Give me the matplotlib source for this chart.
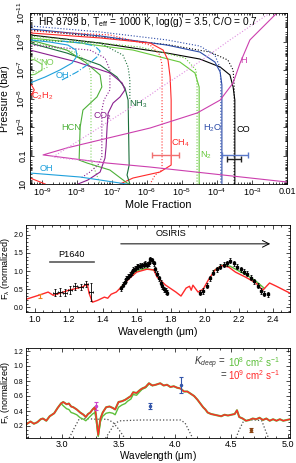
import numpy as np
import matplotlib
matplotlib.use('Agg')
import matplotlib.pyplot as plt
from matplotlib.ticker import LogLocator, MultipleLocator, NullFormatter, FormatStrFormatter

plt.rcParams['font.family'] = ['Liberation Sans', 'DejaVu Sans']
plt.rcParams['mathtext.fontset'] = 'custom'
plt.rcParams['mathtext.rm'] = 'Liberation Sans'
plt.rcParams['mathtext.it'] = 'Liberation Sans:italic'
plt.rcParams['mathtext.default'] = 'regular'
plt.rcParams['axes.linewidth'] = 0.6

# ---- panel 1: chemistry profiles, log10(mole fraction) vs log10(P/bar)
# solid = disequilibrium, dotted = equilibrium
co_lx = [-9.8, -9.34, -7.34, -5.43, -4.49, -3.91, -3.63, -3.54, -3.49, -3.49]
co_lp = [-9.75, -9.46, -8.89, -8.19, -7.77, -7.21, -6.65, -5.81, -4.89, 1.0]
co_eq_lx = [-9.8, -9.34, -7.34, -5.34, -4.2, -3.69, -3.54, -3.51, -3.51]
co_eq_lp = [-10.1, -9.81, -9.32, -8.75, -8.26, -7.7, -7.0, -5.95, 1.0]

h2o_lx = [-9.8, -9.34, -7.34, -5.43, -4.49, -4.06, -3.91, -3.86, -3.86]
h2o_lp = [-10.2, -9.88, -9.39, -8.75, -8.26, -7.56, -6.86, -5.95, 1.0]
h2o_eq_lx = [-9.8, -9.34, -7.34, -5.43, -4.49, -4.06, -3.91, -3.89, -3.89]
h2o_eq_lp = [-10.4, -10.09, -9.67, -9.11, -8.68, -8.05, -7.14, -5.95, 1.0]

n2_lx = [-9.8, -9.34, -7.91, -6.4, -5.06, -4.63, -4.51, -4.51]
n2_lp = [-9.55, -9.25, -8.89, -8.4, -7.56, -6.79, -5.81, 1.0]
n2_eq_lx = [-9.8, -9.34, -6.2, -4.91, -4.6, -4.57, -4.57]
n2_eq_lp = [-9.7, -9.39, -8.61, -7.84, -7.0, -5.95, 1.0]

ch4_lx = [-9.8, -9.34, -7.34, -5.91, -5.54, -5.4, -5.34, -5.31, -5.31, -5.63, -6.4, -6.77]
ch4_lp = [-9.9, -9.6, -9.25, -8.89, -8.4, -7.7, -6.51, -4.89, -0.33, 0.16, 0.58, 1.0]
ch4_eq_lx = [-9.8, -9.34, -7.06, -5.91, -5.63, -5.57, -5.57, -5.77, -5.91]
ch4_eq_lp = [-10.0, -9.74, -9.46, -8.75, -8.05, -7.35, 0.02, 0.37, 1.0]

nh3_lx = [-9.8, -9.34, -8.29, -7.34, -6.86, -6.63, -6.54, -6.51, -6.57, -6.49]
nh3_lp = [-9.2, -8.89, -8.19, -7.35, -6.51, -5.74, -4.89, -0.33, 0.37, 1.0]
nh3_eq_lx = [-9.8, -9.34, -7.34, -6.69, -6.54, -6.49, -6.49]
nh3_eq_lp = [-9.3, -9.11, -8.89, -8.05, -7.21, -6.3, -4.89]

hcn_lx = [-9.8, -9.34, -8.29, -7.77, -7.34, -7.29, -7.43, -7.83, -7.91, -7.94, -7.71, -7.06, -6.57, -6.5]
hcn_lp = [-9.4, -9.11, -8.4, -7.56, -6.65, -5.81, -5.11, -4.19, -3.0, -0.68, -0.47, 0.02, 0.93, 1.0]
hcn_eq_lx = [-9.8, -9.34, -8.06, -7.69, -7.6, -7.6, -7.49, -7.34]
hcn_eq_lp = [-9.25, -8.96, -8.26, -7.56, -6.65, -0.68, 0.02, 1.0]

co2_lx = [-9.8, -9.34, -8.0, -7.06, -6.71, -6.63, -6.77, -6.97, -7.11, -7.14, -7.17, -7.2, -7.34, -7.69, -7.97]
co2_lp = [-8.6, -8.4, -7.56, -6.79, -6.09, -5.6, -5.11, -4.68, -3.98, -3.0, -1.6, -0.82, 0.16, 0.72, 1.0]
co2_eq_lx = [-9.8, -9.34, -7.63, -7.2, -7.06, -7.06, -7.23, -7.29, -7.29, -7.4, -7.63, -7.9]
co2_eq_lp = [-9.0, -8.75, -8.4, -7.84, -7.0, -5.6, -4.89, -4.19, -0.89, -0.33, 0.16, 0.6]

oh_lx = [-9.8, -9.34, -8.77, -8.26, -8.03, -8.0, -8.14, -8.49, -8.91, -9.34, -10.5, -10.5, -9.34, -7.91, -6.4]
oh_lp = [-9.3, -9.11, -8.96, -8.75, -8.4, -7.98, -7.49, -7.0, -6.51, -6.09, -5.5, 0.0, 0.23, 0.51, 1.07]
oh_eq_lx = [-8.43, -8.0, -7.63, -7.4, -7.34, -7.49, -7.86, -8.49]
oh_eq_lp = [-6.3, -6.86, -7.49, -7.98, -8.33, -8.68, -8.89, -9.04]

c2h2_lx = [-10.5, -9.3, -9.22, -9.3, -10.5, -10.5, -9.34, -8.91]
c2h2_lp = [-6.2, -5.95, -5.6, -5.25, -4.8, 0.4, 0.58, 1.0]

no_lx = [-9.6, -9.2, -9.0, -9.0, -9.2, -9.6]
no_lp = [-6.5, -6.7, -7.0, -7.4, -7.7, -7.9]
no_eq_lx = [-9.6, -9.1, -8.85, -8.9, -9.3]
no_eq_lp = [-6.7, -6.9, -7.2, -7.6, -7.9]

h_lx = [-2.29, -3.06, -3.34, -3.54, -3.91, -4.57, -5.91, -7.34, -8.29, -8.97, -7.14, -5.91, -2.0]
h_lp = [-11.0, -9.11, -7.49, -6.09, -4.89, -3.98, -2.93, -2.09, -1.53, -1.04, -0.47, -0.19, 0.86]
h_eq_lx = [-2.49, -3.63, -4.43, -5.06, -5.63, -5.91, -7.34, -8.69, -8.2, -7.34]
h_eq_lp = [-11.0, -9.11, -7.7, -6.65, -5.74, -5.25, -3.0, -0.89, -0.75, -0.54]

# retrieved abundances (CH4, H2O, CO)
bar_lp = [-1.04, -1.04, -0.75]
bar_lo = [-5.86, -3.86, -3.71]
bar_hi = [-5.09, -3.11, -3.31]
bar_colors = ['#f07070', '#5a78c8', '#222222']

# ---- panel 2: near-IR spectrum
mod_wl = [0.95, 1.03, 1.08, 1.11, 1.15, 1.20, 1.28, 1.31, 1.32, 1.34, 1.37, 1.41, 1.43, 1.45,
          1.48, 1.52, 1.56, 1.60, 1.66, 1.70, 1.72, 1.77, 1.83, 1.86, 1.89, 1.91, 1.92, 1.93,
          1.96, 1.99, 2.02, 2.06, 2.10, 2.14, 2.18, 2.24, 2.30, 2.34, 2.38, 2.42, 2.50]
mod_f = [0.22, 0.34, 0.42, 0.33, 0.39, 0.47, 0.56, 0.64, 0.39, 0.14, 0.19, 0.28, 0.25, 0.36,
         0.42, 0.61, 0.81, 0.97, 1.05, 1.03, 0.83, 0.61, 0.42, 0.31, 0.53, 0.58, 0.47, 0.61,
         0.42, 0.5, 0.75, 1.03, 1.15, 1.11, 0.97, 0.83, 0.67, 0.47, 0.67, 0.58, 0.39]
# second model, only where it shows from under the red one
mod2_h_wl = [1.50, 1.55, 1.60, 1.65, 1.70]
mod2_h_f = [0.5, 0.8, 1.0, 1.07, 1.03]
mod2_k_wl = [2.05, 2.10, 2.15, 2.20, 2.25, 2.30, 2.35]
mod2_k_f = [1.0, 1.16, 1.13, 1.0, 0.88, 0.72, 0.52]

osi_wl = [1.51, 1.52, 1.53, 1.54, 1.55, 1.56, 1.57, 1.58, 1.59, 1.60, 1.61, 1.62, 1.63, 1.64,
          1.65, 1.66, 1.67, 1.68, 1.69, 1.70, 1.71, 1.72, 1.73, 1.74, 1.75, 1.76, 1.77, 1.78,
          1.97, 1.99, 2.01, 2.03, 2.05, 2.07, 2.09, 2.11, 2.13, 2.15, 2.17, 2.19, 2.21, 2.23,
          2.25, 2.27, 2.29, 2.31, 2.33, 2.35, 2.37]
osi_f = [0.52, 0.62, 0.7, 0.78, 0.84, 0.9, 0.97, 1.03, 1.07, 1.12, 1.13, 1.15, 1.16, 1.18,
         1.2, 1.17, 1.22, 1.32, 1.3, 1.22, 1.05, 0.92, 0.8, 0.68, 0.58, 0.5, 0.45, 0.4,
         0.4, 0.45, 0.6, 0.8, 0.95, 1.05, 1.12, 1.17, 1.22, 1.28, 1.22, 1.12, 1.05, 0.98,
         0.92, 0.82, 0.72, 0.6, 0.45, 0.38, 0.36]
osi_err = 0.07

p16_wl = [1.12, 1.15, 1.18, 1.21, 1.24, 1.27, 1.30, 1.33]
p16_f = [0.4, 0.42, 0.4, 0.48, 0.58, 0.55, 0.65, 0.42]
p16_err = [0.1, 0.1, 0.1, 0.1, 0.1, 0.08, 0.08, 0.25]

orange_wl, orange_f, orange_err = 1.03, 0.32, 0.06

# ---- panel 3: 3-5 micron spectrum
lm_wl = [2.68, 2.72, 2.75, 2.78, 2.81, 2.83, 2.86, 2.89, 2.93, 2.96, 2.99, 3.01, 3.04, 3.06,
         3.08, 3.10, 3.13, 3.16, 3.19, 3.21, 3.23, 3.25, 3.27, 3.29, 3.30, 3.32, 3.34, 3.36,
         3.39, 3.42, 3.45, 3.47, 3.50, 3.53, 3.56, 3.58, 3.61, 3.63, 3.66, 3.69, 3.71, 3.74,
         3.77, 3.80, 3.83, 3.87, 3.90, 3.93, 3.96, 3.99, 4.02, 4.05, 4.08, 4.11, 4.14, 4.17,
         4.20, 4.23, 4.25, 4.27, 4.29, 4.32, 4.35, 4.38, 4.41, 4.44, 4.47, 4.50, 4.53, 4.55,
         4.57, 4.60, 4.63, 4.66, 4.69, 4.72, 4.75, 4.78, 4.81, 4.84, 4.87, 4.90, 4.93, 4.96,
         4.99, 5.02]
lm_k9 = [0.22, 0.26, 0.23, 0.25, 0.29, 0.3, 0.27, 0.33, 0.37, 0.44, 0.5, 0.52, 0.49, 0.5,
         0.46, 0.45, 0.42, 0.38, 0.35, 0.32, 0.36, 0.38, 0.42, 0.45, 0.35, 0.08, 0.3, 0.38,
         0.45, 0.46, 0.44, 0.42, 0.52, 0.53, 0.55, 0.57, 0.6, 0.65, 0.64, 0.68, 0.7, 0.72,
         0.77, 0.74, 0.75, 0.77, 0.74, 0.75, 0.72, 0.73, 0.71, 0.7, 0.66, 0.66, 0.63, 0.6,
         0.55, 0.49, 0.45, 0.42, 0.38, 0.36, 0.35, 0.34, 0.33, 0.35, 0.34, 0.35, 0.36, 0.41,
         0.32, 0.3, 0.27, 0.28, 0.3, 0.29, 0.31, 0.28, 0.3, 0.27, 0.29, 0.27, 0.29, 0.27,
         0.28, 0.29]
k8_wl = [2.99, 3.01, 3.04, 3.06, 3.08, 3.10, 3.13, 3.16, 3.19, 3.21, 3.23, 3.25, 3.27, 3.29,
         3.30, 3.32, 3.34, 3.36, 3.39, 3.42, 3.45, 3.47, 3.50, 3.53, 3.56, 3.58, 3.61, 3.63,
         3.66, 3.69, 3.71, 3.74, 3.77, 3.80]
k8_f = [0.5, 0.47, 0.43, 0.42, 0.38, 0.37, 0.35, 0.31, 0.29, 0.27, 0.3, 0.33, 0.36, 0.38,
        0.3, 0.06, 0.26, 0.33, 0.37, 0.38, 0.37, 0.35, 0.45, 0.48, 0.5, 0.53, 0.56, 0.62,
        0.61, 0.66, 0.69, 0.71, 0.76, 0.74]

filt1_wl = [3.05, 3.10, 3.15, 3.20, 3.30, 3.40, 3.45, 3.50, 3.55, 3.58]
filt1_f = [0.0, 0.15, 0.29, 0.30, 0.29, 0.29, 0.25, 0.16, 0.05, 0.0]
filt2_wl = [3.37, 3.42, 3.47, 3.52, 3.70, 3.90, 4.05, 4.09, 4.13, 4.17]
filt2_f = [0.0, 0.12, 0.24, 0.27, 0.28, 0.28, 0.28, 0.24, 0.12, 0.0]
filt3_wl = [4.53, 4.57, 4.61, 4.65, 4.72, 4.77, 4.80, 4.84]
filt3_f = [0.0, 0.15, 0.27, 0.28, 0.28, 0.27, 0.15, 0.0]

phot_wl = [3.30, 3.78, 4.05, 4.67]
phot_f = [0.47, 0.47, 0.75, 0.15]
phot_err = [0.05, 0.04, 0.11, 0.03]
phot_col = ['#cc44cc', '#3355aa', '#3355aa', '#8b4513']

RED = '#ff2a2a'
GREEN = '#5cbf3a'

fig = plt.figure(figsize=(2.96, 4.63), dpi=100)

def style(ax):
    ax.tick_params(which='both', direction='in', top=True, right=True, labelsize=6.5,
                   width=0.5, pad=2)
    ax.tick_params(which='major', length=3)
    ax.tick_params(which='minor', length=1.5)

# ================= panel 1
ax1 = fig.add_axes([30/296, 1-184/463, 257/296, 171/463])
curves = [
    (co_lx, co_lp, 'black', '-'), (co_eq_lx, co_eq_lp, 'black', ':'),
    (h2o_lx, h2o_lp, '#2b4ba8', '-'), (h2o_eq_lx, h2o_eq_lp, '#2b4ba8', ':'),
    (n2_lx, n2_lp, '#66c83a', '-'), (n2_eq_lx, n2_eq_lp, '#66c83a', ':'),
    (ch4_lx, ch4_lp, RED, '-'), (ch4_eq_lx, ch4_eq_lp, RED, ':'),
    (nh3_lx, nh3_lp, '#1a6e3a', '-'), (nh3_eq_lx, nh3_eq_lp, '#1a6e3a', ':'),
    (hcn_lx, hcn_lp, '#4cb038', '-'), (hcn_eq_lx, hcn_eq_lp, '#7ccf5a', ':'),
    (co2_lx, co2_lp, '#8a1f8f', '-'), (co2_eq_lx, co2_eq_lp, '#8a1f8f', ':'),
    (oh_lx, oh_lp, '#1ea0dc', '-'), (oh_eq_lx, oh_eq_lp, '#1ea0dc', '-.'),
    (c2h2_lx, c2h2_lp, RED, '-'),
    (no_lx, no_lp, '#7ccf5a', '-'), (no_eq_lx, no_eq_lp, '#7ccf5a', ':'),
    (h_lx, h_lp, '#cc3fae', '-'), (h_eq_lx, h_eq_lp, '#e08ee0', ':'),
]
for lx, lp, c, ls in curves:
    ax1.plot(10.0**np.array(lx), 10.0**np.array(lp), color=c, ls=ls, lw=0.8)

for lp, lo, hi, c in zip(bar_lp, bar_lo, bar_hi, bar_colors):
    mid = 10**((lo + hi) / 2.)
    ax1.errorbar([mid], [10**lp], xerr=[[mid - 10**lo], [10**hi - mid]], fmt='none',
                 ecolor=c, elinewidth=1.0, capsize=2, capthick=1.0)

ax1.set_xscale('log')
ax1.set_yscale('log')
ax1.set_xlim(10**-9.343, 1e-2)
ax1.set_ylim(10, 1e-11)
ax1.set_xticks([1e-9, 1e-8, 1e-7, 1e-6, 1e-5, 1e-4, 1e-3, 1e-2])
ax1.set_xticklabels([r'$10^{-9}$', r'$10^{-8}$', r'$10^{-7}$', r'$10^{-6}$', r'$10^{-5}$',
                     r'$10^{-4}$', r'$10^{-3}$', '0.01'])
ax1.set_yticks([1e-11, 1e-9, 1e-7, 1e-5, 1e-3, 1e-1, 10])
ax1.set_yticklabels([r'$10^{-11}$', r'$10^{-9}$', r'$10^{-7}$', r'$10^{-5}$', r'$10^{-3}$',
                     '0.1', '10'], rotation=90, va='center')
ax1.xaxis.set_minor_locator(LogLocator(base=10, subs=np.arange(2, 10), numticks=20))
ax1.yaxis.set_minor_locator(LogLocator(base=10, subs=np.arange(1, 10), numticks=30))
ax1.xaxis.set_minor_formatter(NullFormatter())
ax1.yaxis.set_minor_formatter(NullFormatter())
style(ax1)
ax1.set_xlabel('Mole Fraction', fontsize=7.8, labelpad=1)
ax1.set_ylabel('Pressure (bar)', fontsize=7.5)
ax1.yaxis.set_label_coords(-0.078, 0.5)

ax1.text(0.46, 0.947, r'HR 8799 b, T$_{eff}$ = 1000 K, log(g) = 3.5, C/O = 0.7',
         transform=ax1.transAxes, ha='center', va='center', fontsize=7.3)
labels = [
    ('NO', -8.86, -7.56, '#7ccf5a', 'center'), ('OH', -8.43, -6.58, '#1ea0dc', 'center'),
    (r'C$_2$H$_2$', -9.31, -5.18, RED, 'left'), (r'NH$_3$', -6.26, -4.61, '#1a6e3a', 'center'),
    (r'CO$_2$', -7.26, -3.77, '#8a1f8f', 'center'), ('HCN', -8.17, -3.0, '#4cb038', 'center'),
    (r'CH$_4$', -5.06, -1.88, RED, 'center'), (r'N$_2$', -4.31, -1.04, '#66c83a', 'center'),
    (r'H$_2$O', -4.14, -2.93, '#2b4ba8', 'center'), ('CO', -3.26, -2.79, 'black', 'center'),
    ('H', -3.23, -7.7, '#cc3fae', 'center'), ('OH', -8.86, -0.12, '#1ea0dc', 'center'),
]
for s, lx, lp, c, ha in labels:
    ax1.text(10**lx, 10**lp, s, color=c, fontsize=6.6, ha=ha, va='center')

# ================= panel 2
ax2 = fig.add_axes([26/296, 1-312/463, 264/296, 87/463])
ax2.plot(mod2_h_wl, mod2_h_f, color=GREEN, lw=1.0)
ax2.plot(mod2_k_wl, mod2_k_f, color=GREEN, lw=1.0)
ax2.plot(mod_wl, mod_f, color=RED, lw=1.0)
ax2.errorbar(osi_wl, osi_f, yerr=osi_err, fmt='s', ms=1.5, color='black', ecolor='black',
             elinewidth=0.6, capsize=1, capthick=0.6)
ax2.errorbar(p16_wl, p16_f, yerr=p16_err, xerr=0.012, fmt='none', ecolor='black',
             elinewidth=0.6, capsize=1, capthick=0.6)
ax2.errorbar([orange_wl], [orange_f], yerr=orange_err, fmt='none', ecolor='#f08020',
             elinewidth=0.8, capsize=1.5, capthick=0.8)
ax2.plot([1.09, 1.35], [1.25, 1.25], color='0.35', lw=1.2)
ax2.text(1.22, 1.45, 'P1640', fontsize=6.6, ha='center', va='center')
ax2.annotate('', xy=(2.40, 1.75), xytext=(1.49, 1.75),
             arrowprops=dict(arrowstyle='->', color='black', lw=0.7, mutation_scale=12))
ax2.text(1.80, 2.03, 'OSIRIS', fontsize=6.6, ha='center', va='center')
ax2.set_xlim(0.95, 2.5)
ax2.set_ylim(-0.13, 2.27)
ax2.xaxis.set_major_locator(MultipleLocator(0.2))
ax2.xaxis.set_minor_locator(MultipleLocator(0.05))
ax2.yaxis.set_major_locator(MultipleLocator(0.5))
ax2.yaxis.set_minor_locator(MultipleLocator(0.1))
ax2.xaxis.set_major_formatter(FormatStrFormatter('%.1f'))
ax2.yaxis.set_major_formatter(FormatStrFormatter('%.1f'))
style(ax2)
ax2.tick_params(axis='y', labelsize=5)
ax2.set_xlabel(r'Wavelength ($\mu$m)', fontsize=7.6, labelpad=1)
ax2.set_ylabel(r'F$_\lambda$ (normalized)', fontsize=6.5)
ax2.yaxis.set_label_coords(-0.052, 0.5)

# ================= panel 3
ax3 = fig.add_axes([26/296, 1-438/463, 264/296, 90/463])
for w, f in [(filt1_wl, filt1_f), (filt2_wl, filt2_f), (filt3_wl, filt3_f)]:
    ax3.plot(w, f, color='0.3', ls=':', lw=0.9)
ax3.plot(lm_wl, lm_k9, color=GREEN, lw=1.5)
ax3.plot(k8_wl, k8_f, color=GREEN, lw=1.0)
ax3.plot(lm_wl, lm_k9, color=RED, lw=1.0)
for w, f, e, c in zip(phot_wl, phot_f, phot_err, phot_col):
    ax3.errorbar([w], [f], yerr=e, fmt='o', ms=1.5, color=c, ecolor=c,
                 elinewidth=0.8, capsize=1.5, capthick=0.8)
ax3.text(0.757, 0.84, r'$\mathit{K_{deep}}$ =', transform=ax3.transAxes, ha='right',
         va='center', fontsize=7, color='0.2')
ax3.text(0.767, 0.84, r'10$^8$ cm$^2$ s$^{-1}$', transform=ax3.transAxes, ha='left',
         va='center', fontsize=7, color=GREEN)
ax3.text(0.757, 0.70, '=', transform=ax3.transAxes, ha='right', va='center',
         fontsize=7, color='0.2')
ax3.text(0.767, 0.70, r'10$^9$ cm$^2$ s$^{-1}$', transform=ax3.transAxes, ha='left',
         va='center', fontsize=7, color=RED)
ax3.set_xlim(2.68, 5.02)
ax3.set_ylim(0.04, 1.24)
ax3.xaxis.set_major_locator(MultipleLocator(0.5))
ax3.xaxis.set_minor_locator(MultipleLocator(0.1))
ax3.yaxis.set_major_locator(MultipleLocator(0.2))
ax3.yaxis.set_minor_locator(MultipleLocator(0.05))
ax3.xaxis.set_major_formatter(FormatStrFormatter('%.1f'))
ax3.yaxis.set_major_formatter(FormatStrFormatter('%.1f'))
style(ax3)
ax3.tick_params(axis='y', labelsize=5)
ax3.tick_params(axis='x', pad=1.5)
ax3.set_xlabel(r'Wavelength ($\mu$m)', fontsize=7.2, labelpad=0)
ax3.set_ylabel(r'F$_\lambda$ (normalized)', fontsize=6.5)
ax3.yaxis.set_label_coords(-0.052, 0.5)

fig.savefig('out.png', dpi=100)
